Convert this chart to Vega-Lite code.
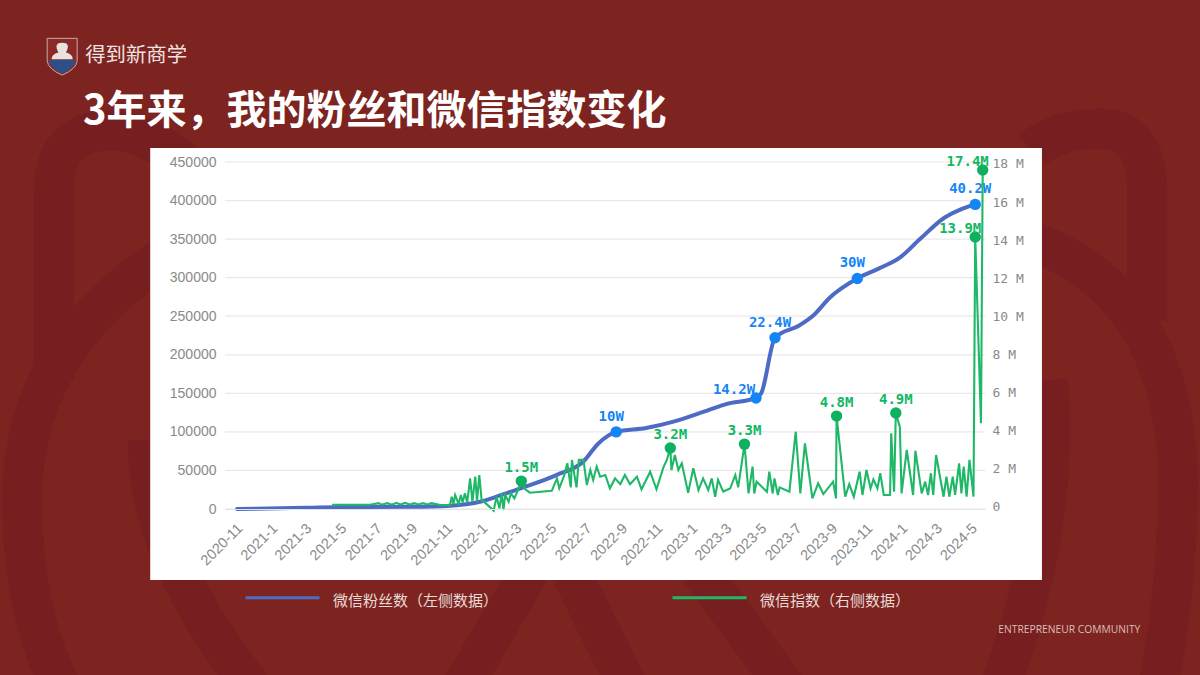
{
  "$schema": "https://vega.github.io/schema/vega-lite/v6.json",
  "autosize": {"type": "none"},
  "width": 760,
  "height": 347,
  "padding": {"left": 225, "top": 162, "right": 215, "bottom": 166},
  "background": "#7d2420",
  "view": {"stroke": null},
  "config": {"font": "Noto Sans CJK SC"},
  "title": {
    "text": "3年来，我的粉丝和微信指数变化",
    "anchor": "start",
    "frame": "group",
    "dx": -142,
    "offset": 0,
    "dy": 96,
    "color": "#ffffff",
    "fontSize": 40,
    "fontWeight": "bold",
    "font": "Noto Sans CJK SC"
  },
  "datasets": {
    "frame": [{"date": "2020-06-03", "end": "2024-08-31", "fans": 468100, "bottom": -92000}],
    "watermark": [{"date": "2022-07-25", "fans": 221750}],
    "logo": [{"date": "2020-01-02", "fans": 588000}],
    "logoText": [{"date": "2020-02-11", "fans": 587000, "label": "得到新商学"}],
    "footer": [{"date": "2024-06-16", "fans": -156500, "label": "ENTREPRENEUR COMMUNITY"}],
    "grid": [
      {"date": "2020-10-11", "end": "2024-05-24", "fans": 0},
      {"date": "2020-10-11", "end": "2024-05-24", "fans": 50000},
      {"date": "2020-10-11", "end": "2024-05-24", "fans": 100000},
      {"date": "2020-10-11", "end": "2024-05-24", "fans": 150000},
      {"date": "2020-10-11", "end": "2024-05-24", "fans": 200000},
      {"date": "2020-10-11", "end": "2024-05-24", "fans": 250000},
      {"date": "2020-10-11", "end": "2024-05-24", "fans": 300000},
      {"date": "2020-10-11", "end": "2024-05-24", "fans": 350000},
      {"date": "2020-10-11", "end": "2024-05-24", "fans": 400000},
      {"date": "2020-10-11", "end": "2024-05-24", "fans": 450000}
    ],
    "fans": [
      {"date": "2020-11-01", "fans": 0},
      {"date": "2021-03-01", "fans": 1500},
      {"date": "2021-05-01", "fans": 2500},
      {"date": "2021-09-01", "fans": 3000},
      {"date": "2021-11-01", "fans": 4000},
      {"date": "2022-01-01", "fans": 10000},
      {"date": "2022-02-13", "fans": 20700},
      {"date": "2022-03-15", "fans": 28400},
      {"date": "2022-05-10", "fans": 44000},
      {"date": "2022-06-25", "fans": 61000},
      {"date": "2022-07-22", "fans": 85000},
      {"date": "2022-08-22", "fans": 100000},
      {"date": "2022-10-13", "fans": 105000},
      {"date": "2022-11-28", "fans": 113000},
      {"date": "2023-01-28", "fans": 128000},
      {"date": "2023-03-01", "fans": 136000},
      {"date": "2023-04-22", "fans": 144000},
      {"date": "2023-05-01", "fans": 150000},
      {"date": "2023-05-25", "fans": 222000},
      {"date": "2023-07-06", "fans": 238000},
      {"date": "2023-08-01", "fans": 252000},
      {"date": "2023-08-28", "fans": 274000},
      {"date": "2023-10-15", "fans": 299000},
      {"date": "2023-11-22", "fans": 312000},
      {"date": "2023-12-28", "fans": 326000},
      {"date": "2024-02-01", "fans": 350000},
      {"date": "2024-03-15", "fans": 378000},
      {"date": "2024-04-10", "fans": 388000},
      {"date": "2024-05-07", "fans": 395000}
    ],
    "fanPeaks": [
      {"date": "2022-08-22", "fans": 100000, "label": "10W"},
      {"date": "2023-04-22", "fans": 144000, "label": "14.2W"},
      {"date": "2023-05-25", "fans": 222000, "label": "22.4W"},
      {"date": "2023-10-15", "fans": 299000, "label": "30W"},
      {"date": "2024-05-07", "fans": 395000, "label": "40.2W"}
    ],
    "index": [
      {"date": "2021-04-15", "value": 120000},
      {"date": "2021-06-20", "value": 120000},
      {"date": "2021-07-05", "value": 200000},
      {"date": "2021-07-10", "value": 120000},
      {"date": "2021-07-20", "value": 200000},
      {"date": "2021-07-28", "value": 120000},
      {"date": "2021-08-05", "value": 220000},
      {"date": "2021-08-12", "value": 130000},
      {"date": "2021-08-20", "value": 220000},
      {"date": "2021-08-28", "value": 130000},
      {"date": "2021-09-05", "value": 200000},
      {"date": "2021-09-12", "value": 130000},
      {"date": "2021-09-20", "value": 200000},
      {"date": "2021-09-28", "value": 130000},
      {"date": "2021-10-05", "value": 200000},
      {"date": "2021-10-20", "value": 100000},
      {"date": "2021-11-06", "value": 100000},
      {"date": "2021-11-09", "value": 540000},
      {"date": "2021-11-12", "value": 160000},
      {"date": "2021-11-15", "value": 630000},
      {"date": "2021-11-21", "value": 160000},
      {"date": "2021-11-25", "value": 630000},
      {"date": "2021-11-28", "value": 230000},
      {"date": "2021-12-02", "value": 720000},
      {"date": "2021-12-06", "value": 230000},
      {"date": "2021-12-11", "value": 1500000},
      {"date": "2021-12-15", "value": 280000},
      {"date": "2021-12-20", "value": 1600000},
      {"date": "2021-12-23", "value": 280000},
      {"date": "2021-12-27", "value": 1680000},
      {"date": "2021-12-31", "value": 370000},
      {"date": "2022-01-04", "value": 280000},
      {"date": "2022-01-21", "value": -190000},
      {"date": "2022-01-26", "value": 540000},
      {"date": "2022-01-31", "value": -70000},
      {"date": "2022-02-04", "value": 710000},
      {"date": "2022-02-07", "value": -160000},
      {"date": "2022-02-10", "value": 630000},
      {"date": "2022-02-16", "value": 280000},
      {"date": "2022-02-20", "value": 710000},
      {"date": "2022-02-26", "value": 450000},
      {"date": "2022-03-03", "value": 810000},
      {"date": "2022-03-10", "value": 1360000},
      {"date": "2022-03-17", "value": 930000},
      {"date": "2022-03-25", "value": 750000},
      {"date": "2022-05-02", "value": 850000},
      {"date": "2022-05-11", "value": 1500000},
      {"date": "2022-05-15", "value": 980000},
      {"date": "2022-05-23", "value": 1600000},
      {"date": "2022-05-29", "value": 2300000},
      {"date": "2022-06-04", "value": 1030000},
      {"date": "2022-06-06", "value": 2470000},
      {"date": "2022-06-14", "value": 1030000},
      {"date": "2022-06-18", "value": 2470000},
      {"date": "2022-06-26", "value": 2470000},
      {"date": "2022-07-02", "value": 1150000},
      {"date": "2022-07-08", "value": 1940000},
      {"date": "2022-07-13", "value": 1420000},
      {"date": "2022-07-19", "value": 2120000},
      {"date": "2022-07-25", "value": 1590000},
      {"date": "2022-08-03", "value": 1680000},
      {"date": "2022-08-11", "value": 980000},
      {"date": "2022-08-20", "value": 1500000},
      {"date": "2022-08-29", "value": 1200000},
      {"date": "2022-09-06", "value": 1680000},
      {"date": "2022-09-15", "value": 1200000},
      {"date": "2022-09-27", "value": 1590000},
      {"date": "2022-10-05", "value": 930000},
      {"date": "2022-10-20", "value": 1850000},
      {"date": "2022-10-31", "value": 930000},
      {"date": "2022-11-12", "value": 2080000},
      {"date": "2022-11-18", "value": 2470000},
      {"date": "2022-11-24", "value": 3100000},
      {"date": "2022-11-26", "value": 1940000},
      {"date": "2022-12-02", "value": 2730000},
      {"date": "2022-12-08", "value": 1940000},
      {"date": "2022-12-14", "value": 2290000},
      {"date": "2022-12-25", "value": 750000},
      {"date": "2023-01-03", "value": 2030000},
      {"date": "2023-01-12", "value": 890000},
      {"date": "2023-01-20", "value": 1500000},
      {"date": "2023-01-29", "value": 890000},
      {"date": "2023-02-04", "value": 1500000},
      {"date": "2023-02-10", "value": 540000},
      {"date": "2023-02-15", "value": 1420000},
      {"date": "2023-02-24", "value": 810000},
      {"date": "2023-03-08", "value": 970000},
      {"date": "2023-03-17", "value": 1680000},
      {"date": "2023-03-22", "value": 1030000},
      {"date": "2023-04-02", "value": 3300000},
      {"date": "2023-04-09", "value": 710000},
      {"date": "2023-04-16", "value": 2120000},
      {"date": "2023-04-19", "value": 710000},
      {"date": "2023-04-23", "value": 1330000},
      {"date": "2023-05-11", "value": 800000},
      {"date": "2023-05-15", "value": 1850000},
      {"date": "2023-05-21", "value": 710000},
      {"date": "2023-05-24", "value": 1500000},
      {"date": "2023-05-30", "value": 630000},
      {"date": "2023-06-02", "value": 1030000},
      {"date": "2023-06-19", "value": 800000},
      {"date": "2023-06-30", "value": 3950000},
      {"date": "2023-07-08", "value": 710000},
      {"date": "2023-07-16", "value": 3340000},
      {"date": "2023-07-29", "value": 450000},
      {"date": "2023-08-08", "value": 1240000},
      {"date": "2023-08-17", "value": 680000},
      {"date": "2023-09-03", "value": 1330000},
      {"date": "2023-09-08", "value": 450000},
      {"date": "2023-09-09", "value": 4770000},
      {"date": "2023-09-24", "value": 540000},
      {"date": "2023-10-01", "value": 1200000},
      {"date": "2023-10-09", "value": 540000},
      {"date": "2023-10-19", "value": 1850000},
      {"date": "2023-10-24", "value": 630000},
      {"date": "2023-10-31", "value": 1940000},
      {"date": "2023-11-07", "value": 970000},
      {"date": "2023-11-12", "value": 1450000},
      {"date": "2023-11-19", "value": 970000},
      {"date": "2023-11-24", "value": 1770000},
      {"date": "2023-11-30", "value": 630000},
      {"date": "2023-12-11", "value": 630000},
      {"date": "2023-12-13", "value": 3870000},
      {"date": "2023-12-18", "value": 800000},
      {"date": "2023-12-21", "value": 4930000},
      {"date": "2023-12-28", "value": 4200000},
      {"date": "2023-12-31", "value": 710000},
      {"date": "2024-01-09", "value": 3000000},
      {"date": "2024-01-20", "value": 630000},
      {"date": "2024-01-24", "value": 2950000},
      {"date": "2024-02-04", "value": 710000},
      {"date": "2024-02-10", "value": 1330000},
      {"date": "2024-02-15", "value": 630000},
      {"date": "2024-02-20", "value": 1770000},
      {"date": "2024-02-24", "value": 630000},
      {"date": "2024-02-29", "value": 2730000},
      {"date": "2024-03-13", "value": 540000},
      {"date": "2024-03-18", "value": 1590000},
      {"date": "2024-03-23", "value": 540000},
      {"date": "2024-03-29", "value": 1590000},
      {"date": "2024-04-02", "value": 630000},
      {"date": "2024-04-09", "value": 2290000},
      {"date": "2024-04-13", "value": 710000},
      {"date": "2024-04-17", "value": 2120000},
      {"date": "2024-04-22", "value": 540000},
      {"date": "2024-04-27", "value": 2470000},
      {"date": "2024-05-04", "value": 540000},
      {"date": "2024-05-07", "value": 14170000},
      {"date": "2024-05-17", "value": 4400000},
      {"date": "2024-05-20", "value": 17680000}
    ],
    "indexPeaks": [
      {"date": "2022-03-10", "value": 1360000, "label": "1.5M"},
      {"date": "2022-11-24", "value": 3100000, "label": "3.2M"},
      {"date": "2023-04-02", "value": 3300000, "label": "3.3M"},
      {"date": "2023-09-09", "value": 4770000, "label": "4.8M"},
      {"date": "2023-12-21", "value": 4930000, "label": "4.9M"},
      {"date": "2024-05-07", "value": 14170000, "label": "13.9M"},
      {"date": "2024-05-20", "value": 17680000, "label": "17.4M"}
    ]
  },
  "data": {"name": "fans"},
  "encoding": {
    "x": {
      "field": "date",
      "type": "temporal",
      "title": null,
      "scale": {"type": "utc", "domain": ["2020-10-11", "2024-05-24"]},
      "axis": {
        "tickCount": {"interval": "month", "step": 2},
        "labelExpr": "utcFormat(datum.value, '%Y-%-m')",
        "labelAngle": -45,
        "labelFont": "Liberation Sans",
        "labelFontSize": 14.5,
        "labelColor": "#8a8a8a",
        "labelPadding": 12,
        "labelOffset": -2,
        "labelOverlap": false,
        "labelFlush": false,
        "ticks": false,
        "domainColor": "#e3e3e3",
        "grid": false,
        "zindex": 1
      }
    }
  },
  "layer": [
    {
      "encoding": {
        "y": {
          "field": "fans",
          "type": "quantitative",
          "title": null,
          "scale": {"domain": [0, 450000], "nice": false, "zero": false},
          "axis": {
            "orient": "left",
            "values": [0, 50000, 100000, 150000, 200000, 250000, 300000, 350000, 400000, 450000],
            "format": "d",
            "grid": false,
            "domain": false,
            "ticks": false,
            "labelFont": "Liberation Sans",
            "labelFontSize": 14,
            "labelColor": "#8a8a8a",
            "labelPadding": 9,
            "zindex": 1
          }
        }
      },
      "layer": [
        {
          "data": {"name": "watermark"},
          "mark": {
            "type": "point",
            "shape": "M-.91,.0708 L-.91,-.2458 Q-.91,-.3458 -.8167,-.3458 Q-.75,-.3458 -.6667,-.2708 M-.6667,-.1708 Q-.9633,-.0125 -.9633,.2708 Q-.9633,.4375 -.9083,.5625 L-.8667,.6375 M-.7533,.1708 Q-.7583,.3708 -.55,.62 M.7167,-.3125 Q.7667,-.3492 .8333,-.3492 Q.9117,-.3492 .9117,-.2458 L.9117,-.0292 M.7167,-.1625 Q.95,-.0792 .9633,.2208 Q.9633,.4375 .9217,.62 M-.1167,.3875 L-.27,.65 M-.05,.3875 L.08,.65 M.1667,.3875 L.36,.65 M.7467,.0708 Q.77,.3375 .64,.65",
            "size": 1440000,
            "filled": false,
            "stroke": "#771e20",
            "strokeWidth": 40,
            "opacity": 1
          }
        },
        {
          "data": {"name": "frame"},
          "mark": {"type": "rect", "color": "#ffffff"},
          "encoding": {"x2": {"field": "end"}, "y2": {"field": "bottom"}}
        },
        {
          "data": {"name": "grid"},
          "mark": {"type": "rule", "color": "#e8e8e8", "strokeWidth": 1.2},
          "encoding": {"x2": {"field": "end"}}
        },
        {
          "mark": {"type": "line", "strokeWidth": 4, "strokeCap": "round", "interpolate": "monotone"},
          "encoding": {
            "color": {
              "datum": "微信粉丝数（左侧数据）",
              "scale": {
                "domain": ["微信粉丝数（左侧数据）", "微信指数（右侧数据）"],
                "range": ["#4d6bc4", "#1fb868"]
              },
              "legend": {
                "orient": "none",
                "legendX": 19,
                "legendY": 397,
                "direction": "horizontal",
                "columns": 2,
                "title": null,
                "symbolType": "stroke",
                "symbolSize": 5476,
                "symbolStrokeWidth": 3,
                "labelOffset": 12,
                "columnPadding": 167,
                "labelColor": "#e9dad7",
                "labelFontSize": 15,
                "labelFont": "Noto Sans CJK SC",
                "labelLimit": 300,
                "encode": {"labels": {"update": {"dy": {"value": 3}}}}
              }
            }
          }
        },
        {
          "data": {"name": "fanPeaks"},
          "mark": {"type": "circle", "size": 130, "color": "#1585f5", "opacity": 1}
        },
        {
          "data": {"name": "fanPeaks"},
          "transform": [{"filter": "datum.label !== '14.2W'"}],
          "mark": {"type": "text", "dx": -5, "dy": -15, "font": "DejaVu Sans Mono", "fontSize": 14, "fontWeight": "bold", "color": "#1585f5"},
          "encoding": {"text": {"field": "label"}}
        },
        {
          "data": {"name": "fanPeaks"},
          "transform": [{"filter": "datum.label === '14.2W'"}],
          "mark": {"type": "text", "dx": -22, "dy": -8, "font": "DejaVu Sans Mono", "fontSize": 14, "fontWeight": "bold", "color": "#1585f5"},
          "encoding": {"text": {"field": "label"}}
        },
        {
          "data": {"name": "logoText"},
          "mark": {"type": "text", "align": "left", "color": "#efe3e1", "fontSize": 20.4, "font": "Noto Sans CJK SC"},
          "encoding": {"text": {"field": "label"}}
        },
        {
          "data": {"name": "footer"},
          "mark": {"type": "text", "align": "left", "color": "#d9bdb9", "fontSize": 10.3, "font": "Open Sans"},
          "encoding": {"text": {"field": "label"}}
        },
        {
          "data": {"name": "logo"},
          "mark": {
            "type": "point",
            "shape": "M-1,-1.15 L1,-1.15 L1,.35 Q.95,.9 0,1.3 Q-.95,.9 -1,.35 Z",
            "size": 900,
            "filled": true,
            "fill": "#8a2b28",
            "stroke": "#c9a9a6",
            "strokeWidth": 1,
            "opacity": 1
          }
        },
        {
          "data": {"name": "logo"},
          "mark": {
            "type": "point",
            "shape": "M-.88,.3 L.88,.3 Q.85,.85 0,1.2 Q-.85,.85 -.88,.3 Z",
            "size": 900,
            "filled": true,
            "fill": "#2d4f86",
            "strokeWidth": 0,
            "opacity": 1
          }
        },
        {
          "data": {"name": "logo"},
          "mark": {
            "type": "point",
            "shape": "M-.7,.25 Q-.7,-.1 -.25,-.2 Q-.6,-.85 0,-.85 Q.6,-.85 .25,-.2 Q.7,-.1 .7,.25 Z",
            "size": 900,
            "filled": true,
            "fill": "#e8e3e0",
            "strokeWidth": 0,
            "opacity": 1
          }
        }
      ]
    },
    {
      "encoding": {
        "y": {
          "field": "value",
          "type": "quantitative",
          "title": null,
          "scale": {"domain": [-105000, 18100000], "nice": false, "zero": false},
          "axis": {
            "orient": "right",
            "values": [0, 2000000, 4000000, 6000000, 8000000, 10000000, 12000000, 14000000, 16000000, 18000000],
            "labelExpr": "datum.value === 0 ? '0' : datum.value / 1000000 + ' M'",
            "grid": false,
            "domain": false,
            "ticks": false,
            "labelFont": "DejaVu Sans Mono",
            "labelFontSize": 13,
            "labelColor": "#8a8a8a",
            "labelPadding": 7,
            "zindex": 1
          }
        }
      },
      "layer": [
        {
          "data": {"name": "index"},
          "mark": {"type": "line", "strokeWidth": 2.1},
          "encoding": {
            "color": {"datum": "微信指数（右侧数据）"}
          }
        },
        {
          "data": {"name": "indexPeaks"},
          "mark": {"type": "circle", "size": 130, "color": "#0fb05f", "opacity": 1}
        },
        {
          "data": {"name": "indexPeaks"},
          "transform": [{"filter": "datum.label !== '13.9M' && datum.label !== '17.4M'"}],
          "mark": {"type": "text", "dy": -13, "font": "DejaVu Sans Mono", "fontSize": 14, "fontWeight": "bold", "color": "#12b765"},
          "encoding": {"text": {"field": "label"}}
        },
        {
          "data": {"name": "indexPeaks"},
          "transform": [{"filter": "datum.label === '13.9M' || datum.label === '17.4M'"}],
          "mark": {"type": "text", "dx": -15, "dy": -8, "font": "DejaVu Sans Mono", "fontSize": 14, "fontWeight": "bold", "color": "#12b765"},
          "encoding": {"text": {"field": "label"}}
        }
      ]
    }
  ],
  "resolve": {"scale": {"y": "independent"}, "axis": {"y": "independent"}}
}
